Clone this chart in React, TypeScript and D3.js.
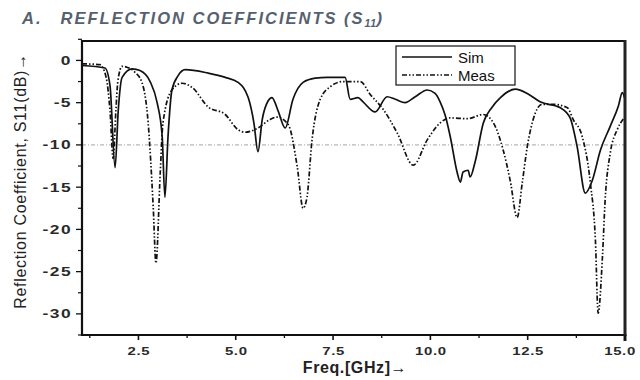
import React from "react";
import * as d3 from "d3";

const simFreq = [1.05, 1.64, 1.77, 1.9, 1.98, 2.08, 2.34, 2.54, 2.8, 2.98, 3.11, 3.18, 3.26, 3.36, 3.52, 3.7, 4.29, 4.73, 5.06, 5.32, 5.47, 5.57, 5.68, 5.83, 5.93, 6.09, 6.27, 6.47, 6.73, 7.04, 7.35, 7.81, 7.94, 8.14, 8.27, 8.58, 8.89, 9.1, 9.35, 9.61, 9.92, 10.12, 10.25, 10.38, 10.51, 10.69, 10.77, 10.84, 10.97, 11.02, 11.15, 11.36, 11.59, 11.8, 12.18, 12.52, 12.82, 13.34, 13.59, 13.77, 13.98, 14.16, 14.37, 14.62, 14.83, 14.93, 15.0];
const simDb = [-0.6, -0.9, -3, -12.7, -6, -2, -1.0, -1.2, -2.5, -5, -9, -16.2, -9, -3.5, -1.8, -1.1, -1.5, -2.0, -2.6, -4.4, -7.5, -10.8, -7, -4.8, -4.4, -6.0, -8.0, -4.6, -2.6, -2.1, -2.0, -2.0, -4.6, -4.4, -4.9, -6.1, -4.3, -4.6, -5.0, -4.3, -3.5, -3.9, -4.9, -6.5, -9.0, -13.3, -14.4, -13.2, -13.0, -13.8, -12.0, -7.4, -5.5, -4.4, -3.4, -4.0, -4.9, -5.6, -6.8, -10.2, -15.7, -14.2, -10.6, -7.8, -5.4, -3.8, -4.6];

const measFreq = [1.05, 1.51, 1.67, 1.77, 1.85, 1.92, 1.97, 2.08, 2.2, 2.41, 2.59, 2.75, 2.88, 2.95, 3.06, 3.13, 3.36, 3.62, 3.88, 4.29, 4.73, 5.06, 5.24, 5.57, 5.88, 6.06, 6.35, 6.58, 6.73, 6.83, 6.96, 7.17, 7.43, 7.76, 8.2, 8.45, 8.79, 9.15, 9.56, 9.92, 10.25, 10.51, 10.95, 11.36, 11.62, 11.87, 12.05, 12.23, 12.36, 12.49, 12.64, 12.87, 13.16, 13.52, 13.67, 13.9, 14.11, 14.24, 14.31, 14.42, 14.49, 14.62, 14.8, 14.96];
const measDb = [-0.4, -0.5, -2, -6, -11.6, -6, -2.5, -0.7, -0.8, -1.4, -2.6, -7.4, -17.4, -24.0, -13.3, -7.4, -3.5, -2.7, -3.2, -5.5, -6.4, -8.2, -8.5, -8.0, -7.0, -6.7, -7.6, -12.6, -17.5, -16.2, -9.4, -4.6, -3.1, -2.5, -2.5, -4.0, -5.8, -8.6, -12.4, -9.4, -7.4, -6.8, -6.9, -6.4, -7.4, -10.6, -14.2, -18.6, -14.5, -10.2, -7.0, -5.2, -5.2, -5.6, -7.0, -9.0, -14.5, -21.3, -29.9, -23.3, -16.5, -11, -8.2, -6.9];

const xMajor = [2.5, 5.0, 7.5, 10.0, 12.5, 15.0];
const xLabels = ["2.5", "5.0", "7.5", "10.0", "12.5", "15.0"];
const xMinor = [1.25, 3.75, 6.25, 8.75, 11.25, 13.75];
const yMajor = [0, -5, -10, -15, -20, -25, -30];
const yMinor = [2.5, -2.5, -7.5, -12.5, -17.5, -22.5, -27.5, -32.5];
const refLevel = -10;
const seriesNames = ["Sim", "Meas"];

const W = 640, H = 380;
const L = 82, R = 625, T = 41, B = 335;

function Stretch(props: { x: number; y: number; sx: number; anchor: string; children: React.ReactNode; size: number; ls?: number }) {
  return (
    <g transform={`translate(${props.x},${props.y}) scale(${props.sx},1)`}>
      <text x={0} y={0} textAnchor={props.anchor} fontSize={props.size} fontWeight="bold" fill="#2a2a2a" letterSpacing={props.ls ?? 0}>
        {props.children}
      </text>
    </g>
  );
}

export default function App() {
  const x = d3.scaleLinear().domain([1.05, 15]).range([L, R]);
  const y = d3.scaleLinear().domain([2.3, -32.5]).range([T, B]);
  const line = d3
    .line<[number, number]>()
    .x((d) => x(d[0]))
    .y((d) => y(d[1]))
    .curve(d3.curveMonotoneX);
  const simPts = simFreq.map((f, i) => [f, simDb[i]] as [number, number]);
  const measPts = measFreq.map((f, i) => [f, measDb[i]] as [number, number]);
  const measDash = "5,2,1.5,2,1.5,2";
  const font = "'Liberation Sans', Arial, sans-serif";

  return (
    <svg width={W} height={H} style={{ position: "absolute", left: 0, top: 0, background: "#fff" }} fontFamily={font}>
      <text x={22} y={24} fontSize={16.5} fontWeight="bold" fontStyle="italic" fill="#56616f" letterSpacing={2}>
        A.<tspan dx={18}>REFLECTION COEFFICIENTS (S</tspan>
        <tspan fontSize={10.5} dy={3} letterSpacing={0.5}>11</tspan>
        <tspan dy={-3}>)</tspan>
      </text>

      <defs>
        <clipPath id="plot">
          <rect x={L} y={T} width={R - L} height={B - T} />
        </clipPath>
      </defs>

      <line x1={x(1.05)} x2={x(15)} y1={y(refLevel)} y2={y(refLevel)} stroke="#999" strokeWidth={0.9} strokeDasharray="4,2,1,2" />

      <g clipPath="url(#plot)">
        <path d={line(measPts) ?? ""} fill="none" stroke="#111" strokeWidth={1.7} strokeDasharray={measDash} />
        <path d={line(simPts) ?? ""} fill="none" stroke="#111" strokeWidth={1.7} />
      </g>

      {/* frame */}
      <line x1={L} x2={R} y1={T} y2={T} stroke="#111" strokeWidth={2} />
      <line x1={L} x2={R + 1.5} y1={B} y2={B} stroke="#111" strokeWidth={2} />
      <line x1={L} x2={L} y1={T - 1} y2={B + 1} stroke="#111" strokeWidth={2.2} />
      <line x1={R} x2={R} y1={T - 1} y2={B + 6} stroke="#222" strokeWidth={3} />

      {yMajor.map((v) => (
        <g key={"ym" + v}>
          <line x1={L - 6} x2={L} y1={y(v)} y2={y(v)} stroke="#111" strokeWidth={1.3} />
          <Stretch x={L - 10} y={y(v) + 4.5} sx={1.45} anchor="end" size={12} ls={1}>
            {String(v)}
          </Stretch>
        </g>
      ))}
      {yMinor.map((v) => (
        <line key={"yn" + v} x1={L - 4} x2={L} y1={y(v)} y2={y(v)} stroke="#111" strokeWidth={1.2} />
      ))}
      {xMajor.map((v, i) => (
        <g key={"xm" + v}>
          <line x1={x(v)} x2={x(v)} y1={B} y2={B + 5} stroke="#111" strokeWidth={1.6} />
          <Stretch x={Math.min(x(v) + 0.5, 620)} y={B + 20} sx={1.3} anchor="middle" size={11.5} ls={0.5}>
            {xLabels[i]}
          </Stretch>
        </g>
      ))}
      {xMinor.map((v) => (
        <line key={"xn" + v} x1={x(v)} x2={x(v)} y1={B} y2={B + 3} stroke="#111" strokeWidth={1.3} />
      ))}

      <text
        transform={`translate(26,${(60 + 302) / 2}) rotate(-90)`}
        textAnchor="middle"
        fontSize={16}
        fill="#222"
        letterSpacing={0.7}
      >
        Reflection Coefficient, S11(dB)→
      </text>
      <text x={355} y={373} textAnchor="middle" fontSize={16} fontWeight="bold" fill="#222" letterSpacing={0.6}>
        Freq.[GHz]<tspan fontWeight="normal">→</tspan>
      </text>

      {/* legend */}
      <rect x={396} y={46} width={119} height={39} fill="#fff" stroke="#111" strokeWidth={1.2} />
      <line x1={402} x2={452} y1={57} y2={57} stroke="#111" strokeWidth={1.6} />
      <text x={458} y={63} fontSize={15} fill="#111">{seriesNames[0]}</text>
      <line x1={402} x2={452} y1={75} y2={75} stroke="#111" strokeWidth={1.6} strokeDasharray={measDash} />
      <text x={458} y={81} fontSize={15} fill="#111">{seriesNames[1]}</text>
    </svg>
  );
}
